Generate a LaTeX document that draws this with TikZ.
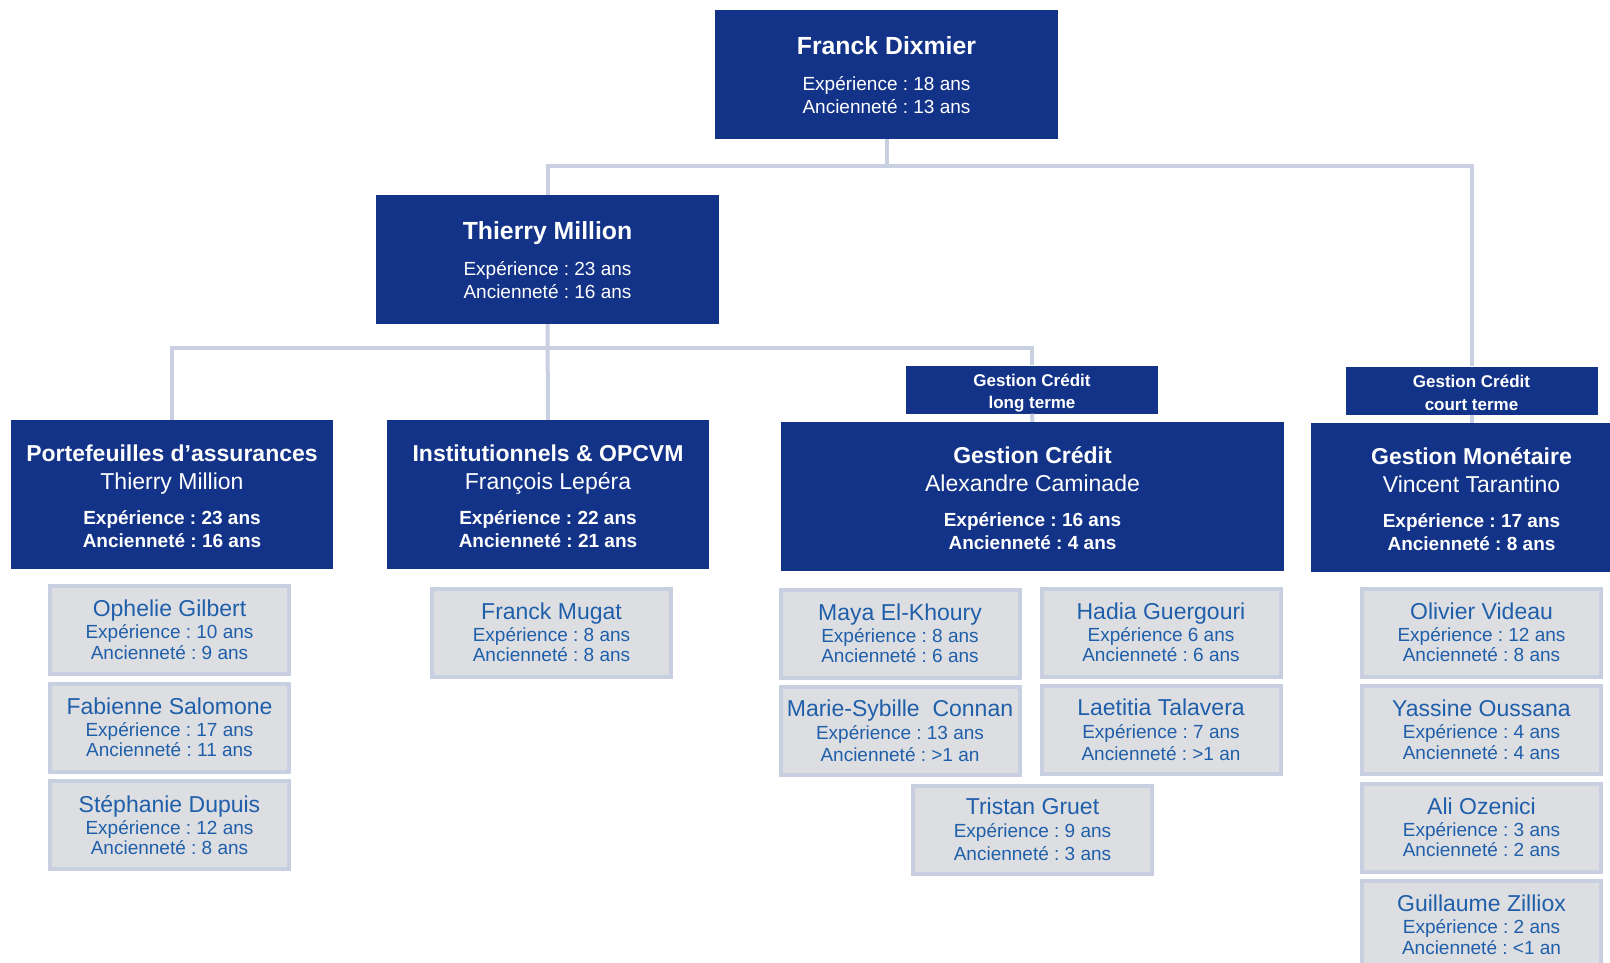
\documentclass[tikz,border=0pt]{standalone}
\usepackage{fontspec}
\setmainfont{Liberation Sans}
\usetikzlibrary{positioning}
\frenchspacing

\definecolor{chefbleu}{RGB}{19,51,136}
\definecolor{cadrefond}{RGB}{221,222,226}
\definecolor{cadrebord}{RGB}{199,207,225}
\definecolor{nombleu}{RGB}{31,95,170}
\definecolor{lienbleu}{RGB}{200,208,226}

\newcommand{\grostitre}[1]{{\fontsize{24.8}{24.8}\selectfont\bfseries #1}}
\newcommand{\poletitre}[1]{{\fontsize{23}{23}\selectfont\bfseries #1}}
\newcommand{\polenom}[1]{{\fontsize{23}{23}\selectfont #1}}
\newcommand{\nomgerant}[1]{{\fontsize{23}{23}\selectfont #1}}

\tikzset{
  chef/.style={fill=chefbleu, text=white, inner sep=0pt, align=center,
    font=\fontsize{19}{23}\selectfont},
  tete/.style={chef, minimum width=343pt, minimum height=129pt},
  pole/.style={chef, minimum width=322pt, minimum height=149pt},
  etiquette/.style={chef, minimum width=252pt, minimum height=48pt,
    font=\fontsize{17}{22.5}\selectfont\bfseries},
  gerant/.style={fill=cadrefond, draw=cadrebord, line width=4pt, text=nombleu,
    align=center, inner sep=0pt, minimum width=239pt, minimum height=88pt,
    font=\fontsize{19}{20.5}\selectfont},
  lien/.style={draw=lienbleu, line width=4pt}
}

\begin{document}
\begin{tikzpicture}[x=1pt, y=-1pt, node distance=97.5pt]
\useasboundingbox (0,0) rectangle (1610,963);
\clip (0,0) rectangle (1610,963);
\node[tete] (dixmier) at (886.5,74.5) {\rule{0pt}{20pt}\grostitre{Franck Dixmier}\\[13pt] Expérience : 18 ans\\ Ancienneté : 13 ans};
\node[tete] (million) at (547.5,259.5) {\rule{0pt}{20pt}\grostitre{Thierry Million}\\[13pt] Expérience : 23 ans\\ Ancienneté : 16 ans};
\node[pole] (assur) at (172,494.5) {\rule{0pt}{20pt}\poletitre{Portefeuilles d’assurances}\\[5pt] \polenom{Thierry Million}\\[12pt] \textbf{Expérience : 23 ans}\\ \textbf{Ancienneté : 16 ans}};
\node[pole] (instit) at (548,494.5) {\rule{0pt}{20pt}\poletitre{Institutionnels \& OPCVM}\\[5pt] \polenom{François Lepéra}\\[12pt] \textbf{Expérience : 22 ans}\\ \textbf{Ancienneté : 21 ans}};
\node[etiquette] (credlt) at (1032,389.5) {\rule{0pt}{20pt}Gestion Crédit\\ long terme};
\node[pole, minimum width=503pt] (credit) at (1032.5,496.5) {\rule{0pt}{20pt}\poletitre{Gestion Crédit}\\[5pt] \polenom{Alexandre Caminade}\\[12pt] \textbf{Expérience : 16 ans}\\ \textbf{Ancienneté : 4 ans}};
\node[etiquette] (credct) at (1471.5,390.5) {\rule{0pt}{17pt}Gestion Crédit\\ court terme};
\node[pole, minimum width=321pt] (monet) at (1471.5,497.5) {\rule{0pt}{20pt}\poletitre{Gestion Monétaire}\\[5pt] \polenom{Vincent Tarantino}\\[12pt] \textbf{Expérience : 17 ans}\\ \textbf{Ancienneté : 8 ans}};
% gerants
\node[gerant] (gilbert) at (169.5,630) {\nomgerant{Ophelie Gilbert}\\[1.5pt] Expérience : 10 ans\\ Ancienneté : 9 ans};
\node[gerant, below of=gilbert] (salomone) {\nomgerant{Fabienne Salomone}\\[1.5pt] Expérience : 17 ans\\ Ancienneté : 11 ans};
\node[gerant, below of=salomone] (dupuis) {\nomgerant{Stéphanie Dupuis}\\[1.5pt] Expérience : 12 ans\\ Ancienneté : 8 ans};
\node[gerant] (mugat) at (551.5,632.5) {\nomgerant{Franck Mugat}\\[1.5pt] Expérience : 8 ans\\ Ancienneté : 8 ans};
\node[gerant] (khoury) at (900,633.5) {\nomgerant{Maya El-Khoury}\\[1.5pt] Expérience : 8 ans\\ Ancienneté : 6 ans};
\node[gerant, below of=khoury] (connan) {\nomgerant{Marie-Sybille\ \ Connan}\\[2.5pt] Expérience : 13 ans\\[2pt] Ancienneté : >1 an};
\node[gerant] (guergouri) at (1161,632.5) {\nomgerant{Hadia Guergouri}\\[1.5pt] Expérience 6 ans\\ Ancienneté : 6 ans};
\node[gerant, below of=guergouri] (talavera) {\nomgerant{Laetitia Talavera}\\[2.5pt] Expérience : 7 ans\\[2pt] Ancienneté : >1 an};
\node[gerant] (gruet) at (1032.5,829.5) {\nomgerant{Tristan Gruet}\\[2.5pt] Expérience : 9 ans\\[2pt] Ancienneté : 3 ans};
\node[gerant] (videau) at (1481.5,632.5) {\nomgerant{Olivier Videau}\\[1.5pt] Expérience : 12 ans\\ Ancienneté : 8 ans};
\node[gerant, below of=videau] (oussana) {\nomgerant{Yassine Oussana}\\[1.5pt] Expérience : 4 ans\\ Ancienneté : 4 ans};
\node[gerant, below of=oussana] (ozenici) {\nomgerant{Ali Ozenici}\\[1.5pt] Expérience : 3 ans\\ Ancienneté : 2 ans};
\node[gerant, below of=ozenici] (zilliox) {\nomgerant{Guillaume Zilliox}\\[1.5pt] Expérience : 2 ans\\ Ancienneté : <1 an};
% liens
\draw[lien] (dixmier.south) -- ++(0,27) coordinate (barre1);
\draw[lien] (barre1) -| (million.north);
\draw[lien] (barre1) -| (credct.north);
\draw[lien] (million.south) -- (instit.north);
\path (million.south) ++(0,24) coordinate (barre2);
\draw[lien] (barre2) -| (assur.north);
\draw[lien] (barre2) -| (credlt.north);
\draw[lien] (credlt.south) -- (credit.north);
\draw[lien] (credct.south) -- (monet.north);
\end{tikzpicture}
\end{document}
